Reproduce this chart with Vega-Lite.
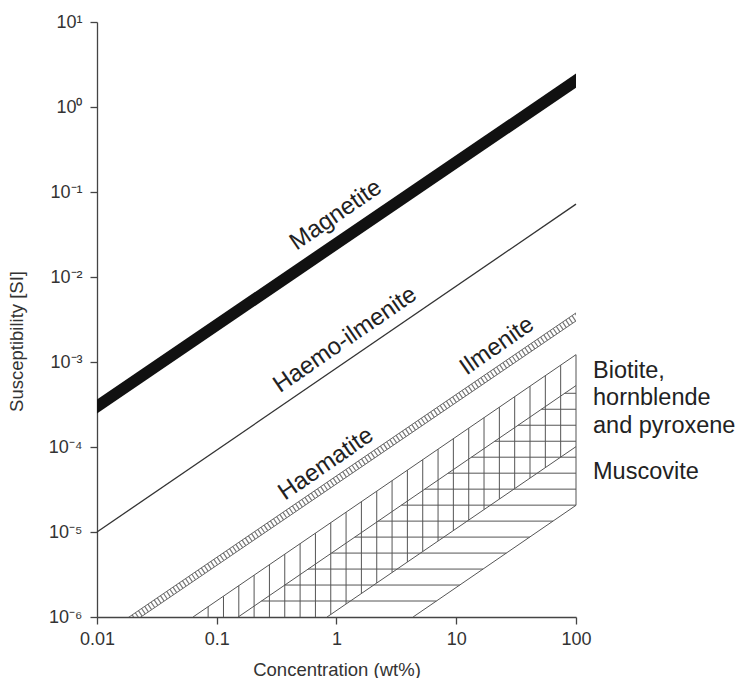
{
  "$schema": "https://vega.github.io/schema/vega-lite/v6.json",
  "width": 479,
  "height": 595,
  "autosize": {"type": "none"},
  "padding": {"left": 97, "top": 22, "right": 172, "bottom": 61},
  "background": "white",
  "config": {
    "view": {"stroke": null},
    "font": "Liberation Sans",
    "axis": {
      "grid": false,
      "domainColor": "#444",
      "domainWidth": 1.3,
      "tickColor": "#444",
      "tickWidth": 1.3,
      "tickSize": 7,
      "labelFont": "Liberation Sans",
      "labelFontSize": 18,
      "labelColor": "#333",
      "titleFont": "Liberation Sans",
      "titleFontSize": 18.5,
      "titleFontWeight": "normal",
      "titleColor": "#333",
      "labelOverlap": false,
      "labelFlush": false
    }
  },
  "datasets": {
    "magnetite": [
      {"x": 0.01, "y": 0.000248, "y2": 0.000362},
      {"x": 100, "y": 1.69, "y2": 2.47}
    ],
    "haemo": [
      {"x": 0.01, "y": 0.00001, "x2": 100, "y2": 0.072}
    ],
    "ladder": [
      {"x": 0.01585, "y": 7.73e-7, "x2": 107.2, "y2": 0.00362}
    ],
    "ladderEdges": [
      {"x": 0.01585, "y": 8.61e-7, "x2": 107.2, "y2": 0.00404},
      {"x": 0.01585, "y": 6.93e-7, "x2": 107.2, "y2": 0.00325}
    ],
    "hatch": [
      {"x": 0.0634, "y": 1e-6, "x2": 100, "y2": 0.00122},
      {"x": 0.151, "y": 1e-6, "x2": 100, "y2": 0.000528},
      {"x": 0.834, "y": 1e-6, "x2": 100, "y2": 0.000101},
      {"x": 4.36, "y": 1e-6, "x2": 100, "y2": 0.0000206},
      {"x": 100, "y": 0.0000206, "x2": 100, "y2": 0.00122},
      {"x": 74.47, "y": 7.63e-5, "x2": 74.47, "y2": 9.173e-4},
      {"x": 55.46, "y": 5.741e-5, "x2": 55.46, "y2": 6.902e-4},
      {"x": 41.30, "y": 4.319e-5, "x2": 41.30, "y2": 5.193e-4},
      {"x": 30.76, "y": 3.250e-5, "x2": 30.76, "y2": 3.907e-4},
      {"x": 22.91, "y": 2.446e-5, "x2": 22.91, "y2": 2.940e-4},
      {"x": 17.06, "y": 1.840e-5, "x2": 17.06, "y2": 2.212e-4},
      {"x": 12.71, "y": 1.385e-5, "x2": 12.71, "y2": 1.665e-4},
      {"x": 9.462, "y": 1.042e-5, "x2": 9.462, "y2": 1.253e-4},
      {"x": 7.047, "y": 7.840e-6, "x2": 7.047, "y2": 9.425e-5},
      {"x": 5.248, "y": 5.900e-6, "x2": 5.248, "y2": 7.093e-5},
      {"x": 3.908, "y": 4.439e-6, "x2": 3.908, "y2": 5.337e-5},
      {"x": 2.911, "y": 3.340e-6, "x2": 2.911, "y2": 4.016e-5},
      {"x": 2.168, "y": 2.513e-6, "x2": 2.168, "y2": 3.021e-5},
      {"x": 1.614, "y": 1.891e-6, "x2": 1.614, "y2": 2.273e-5},
      {"x": 1.202, "y": 1.423e-6, "x2": 1.202, "y2": 1.711e-5},
      {"x": 0.8954, "y": 1.071e-6, "x2": 0.8954, "y2": 1.287e-5},
      {"x": 0.6668, "y": 1e-6, "x2": 0.6668, "y2": 9.687e-6},
      {"x": 0.4966, "y": 1e-6, "x2": 0.4966, "y2": 7.288e-6},
      {"x": 0.3698, "y": 1e-6, "x2": 0.3698, "y2": 5.484e-6},
      {"x": 0.2754, "y": 1e-6, "x2": 0.2754, "y2": 4.126e-6},
      {"x": 0.2051, "y": 1e-6, "x2": 0.2051, "y2": 3.105e-6},
      {"x": 0.1528, "y": 1e-6, "x2": 0.1528, "y2": 2.336e-6},
      {"x": 0.1138, "y": 1e-6, "x2": 0.1138, "y2": 1.758e-6},
      {"x": 0.08472, "y": 1e-6, "x2": 0.08472, "y2": 1.323e-6},
      {"x": 0.2361, "y": 1.542e-6, "x2": 6.826, "y2": 1.542e-6},
      {"x": 0.3697, "y": 2.377e-6, "x2": 10.69, "y2": 2.377e-6},
      {"x": 0.5790, "y": 3.664e-6, "x2": 16.74, "y2": 3.664e-6},
      {"x": 0.9068, "y": 5.649e-6, "x2": 26.22, "y2": 5.649e-6},
      {"x": 1.420, "y": 8.710e-6, "x2": 41.07, "y2": 8.710e-6},
      {"x": 2.224, "y": 1.343e-5, "x2": 64.33, "y2": 1.343e-5},
      {"x": 3.483, "y": 2.070e-5, "x2": 100, "y2": 2.070e-5},
      {"x": 5.455, "y": 3.192e-5, "x2": 100, "y2": 3.192e-5},
      {"x": 8.543, "y": 4.920e-5, "x2": 100, "y2": 4.920e-5},
      {"x": 13.38, "y": 7.586e-5, "x2": 100, "y2": 7.586e-5},
      {"x": 20.96, "y": 1.169e-4, "x2": 100, "y2": 1.169e-4},
      {"x": 32.82, "y": 1.803e-4, "x2": 100, "y2": 1.803e-4},
      {"x": 51.40, "y": 2.780e-4, "x2": 100, "y2": 2.780e-4},
      {"x": 80.49, "y": 4.285e-4, "x2": 100, "y2": 4.285e-4}
    ],
    "lineLabels": [
      {"x": 0.99, "y": 0.0536, "text": "Magnetite"},
      {"x": 1.18, "y": 0.00182, "text": "Haemo-ilmenite"},
      {"x": 0.817, "y": 0.0000631, "text": "Haematite"},
      {"x": 21.9, "y": 0.00154, "text": "Ilmenite"}
    ],
    "sideLabels": [
      {"x": 100, "y": 0.000649, "text": "Biotite,\nhornblende\nand pyroxene"},
      {"x": 100, "y": 0.0000421, "text": "Muscovite"}
    ]
  },
  "encoding": {
    "x": {
      "field": "x",
      "type": "quantitative",
      "scale": {"type": "log", "domain": [0.01, 100], "nice": false},
      "axis": {
        "title": "Concentration (wt%)",
        "values": [0.01, 0.1, 1, 10, 100],
        "format": "~g",
        "labelPadding": 6,
        "titleBaseline": "alphabetic",
        "titleY": 58
      }
    },
    "y": {
      "field": "y",
      "type": "quantitative",
      "scale": {"type": "log", "domain": [0.000001, 10], "nice": false},
      "axis": {
        "title": "Susceptibility [SI]",
        "values": [0.000001, 0.00001, 0.0001, 0.001, 0.01, 0.1, 1, 10],
        "labelExpr": "['10⁻⁶','10⁻⁵','10⁻⁴','10⁻³','10⁻²','10⁻¹','10⁰','10¹'][round(log(datum.value)/LN10)+6]",
        "labelPadding": 8,
        "titleX": -81,
        "titleY": 319,
        "titleAngle": -90,
        "titleBaseline": "middle",
        "titleAlign": "center"
      }
    }
  },
  "layer": [
    {
      "data": {"name": "hatch"},
      "mark": {"type": "rule", "color": "#555", "strokeWidth": 1},
      "encoding": {"x2": {"field": "x2"}, "y2": {"field": "y2"}}
    },
    {
      "data": {"name": "ladder"},
      "mark": {"type": "rule", "color": "#777", "strokeWidth": 6.6, "strokeDash": [1.2, 2.6], "clip": true},
      "encoding": {"x2": {"field": "x2"}, "y2": {"field": "y2"}}
    },
    {
      "data": {"name": "ladderEdges"},
      "mark": {"type": "rule", "color": "#666", "strokeWidth": 1, "clip": true},
      "encoding": {"x2": {"field": "x2"}, "y2": {"field": "y2"}}
    },
    {
      "data": {"name": "haemo"},
      "mark": {"type": "rule", "color": "#333", "strokeWidth": 1.3},
      "encoding": {"x2": {"field": "x2"}, "y2": {"field": "y2"}}
    },
    {
      "data": {"name": "magnetite"},
      "mark": {"type": "area", "color": "#111", "opacity": 1},
      "encoding": {"y2": {"field": "y2"}}
    },
    {
      "data": {"name": "lineLabels"},
      "mark": {"type": "text", "angle": -34.6, "fontSize": 24, "align": "center", "baseline": "middle", "color": "#222", "font": "Liberation Sans"},
      "encoding": {"text": {"field": "text"}}
    },
    {
      "data": {"name": "sideLabels"},
      "mark": {"type": "text", "fontSize": 23.5, "align": "left", "baseline": "alphabetic", "dx": 17, "lineBreak": "\n", "lineHeight": 27.5, "color": "#222", "font": "Liberation Sans"},
      "encoding": {"text": {"field": "text"}}
    }
  ]
}
